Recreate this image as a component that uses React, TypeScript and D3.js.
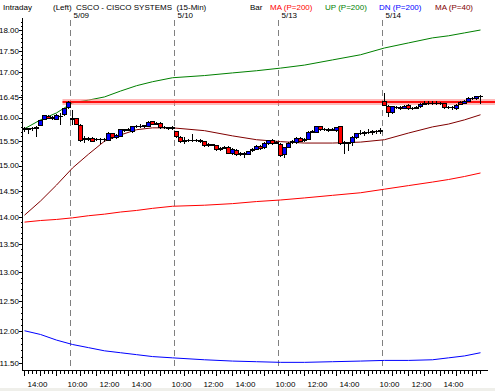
import React from 'react';
import * as d3 from 'd3';

// 15-min sessions: afternoon of 5/08, then 5/09, 5/10, 5/13, 5/14
const sessionStart = ['13:00', '09:30', '09:30', '09:30', '09:30'];
const sessionBars = [12, 26, 26, 26, 25];
const dayLabels = ['5/09', '5/10', '5/13', '5/14'];
const timeLabels = ['10:00', '12:00', '14:00'];
const yTicks = [18, 17.5, 17, 16.45, 16, 15.5, 15, 14.5, 14, 13.5, 13, 12.5, 12, 11.5];

const opens = [
  15.75, 15.74, 15.76, 15.77, 15.84, 15.96, 16.03, 15.98, 15.96, 16.02, 16.06, 16.21,
  15.97, 15.99, 15.84, 15.54, 15.55, 15.56, 15.53, 15.54, 15.53, 15.52, 15.65, 15.58, 15.6, 15.74,
  15.73, 15.7, 15.8, 15.81, 15.8, 15.81, 15.91, 15.86, 15.88, 15.79, 15.78, 15.76,
  15.7, 15.58, 15.5, 15.52, 15.51, 15.52, 15.51, 15.49, 15.41, 15.43, 15.41, 15.32, 15.35,
  15.37, 15.25, 15.31, 15.23, 15.24, 15.23, 15.3, 15.33, 15.39, 15.36, 15.45, 15.52, 15.46,
  15.44, 15.22, 15.37, 15.47, 15.47, 15.56, 15.51, 15.54, 15.69, 15.69, 15.8, 15.74, 15.75,
  15.73, 15.72, 15.8, 15.46, 15.47, 15.47, 15.57, 15.65, 15.67, 15.68, 15.69, 15.7, 15.71,
  16.34, 16.25, 16.11, 16.22, 16.21, 16.2, 16.27, 16.19, 16.2, 16.23, 16.29, 16.3, 16.31,
  16.3, 16.31, 16.3, 16.21, 16.22, 16.19, 16.33, 16.3, 16.35, 16.42, 16.41, 16.46,
];
const highs = [
  15.8, 15.78, 15.8, 15.82, 15.95, 16.06, 16.06, 16.04, 16.07, 16.1, 16.21, 16.35,
  16.16, 16.0, 15.86, 15.61, 15.58, 15.58, 15.57, 15.56, 15.56, 15.69, 15.67, 15.64, 15.76, 15.76,
  15.77, 15.82, 15.84, 15.86, 15.85, 15.93, 15.93, 15.9, 15.9, 15.81, 15.8, 15.81,
  15.72, 15.6, 15.58, 15.55, 15.65, 15.55, 15.54, 15.51, 15.46, 15.45, 15.43, 15.38, 15.4,
  15.4, 15.35, 15.34, 15.28, 15.27, 15.3, 15.36, 15.42, 15.42, 15.48, 15.53, 15.54, 15.5,
  15.46, 15.38, 15.48, 15.53, 15.58, 15.58, 15.56, 15.71, 15.73, 15.82, 15.82, 15.78, 15.77,
  15.78, 15.8, 15.82, 15.5, 15.49, 15.6, 15.67, 15.73, 15.71, 15.75, 15.73, 15.74, 15.78,
  16.53, 16.28, 16.25, 16.25, 16.24, 16.27, 16.3, 16.23, 16.25, 16.31, 16.35, 16.36, 16.35,
  16.36, 16.34, 16.32, 16.25, 16.24, 16.29, 16.36, 16.38, 16.45, 16.45, 16.48, 16.49,
];
const lows = [
  15.7, 15.66, 15.72, 15.58, 15.82, 15.94, 15.96, 15.95, 15.94, 15.84, 16.04, 16.19,
  15.84, 15.85, 15.48, 15.46, 15.5, 15.48, 15.5, 15.45, 15.48, 15.5, 15.54, 15.55, 15.58, 15.7,
  15.71, 15.68, 15.77, 15.77, 15.77, 15.79, 15.83, 15.83, 15.76, 15.75, 15.73, 15.73,
  15.57, 15.46, 15.45, 15.48, 15.48, 15.48, 15.47, 15.37, 15.38, 15.39, 15.3, 15.29, 15.33,
  15.23, 15.22, 15.2, 15.2, 15.15, 15.21, 15.28, 15.31, 15.32, 15.34, 15.43, 15.43, 15.44,
  15.17, 15.16, 15.35, 15.45, 15.45, 15.48, 15.49, 15.52, 15.67, 15.67, 15.72, 15.71, 15.7,
  15.71, 15.7, 15.43, 15.24, 15.3, 15.4, 15.55, 15.62, 15.6, 15.64, 15.62, 15.66, 15.66,
  16.24, 16.01, 16.07, 16.18, 16.16, 16.18, 16.17, 16.16, 16.18, 16.21, 16.27, 16.27, 16.27,
  16.28, 16.27, 16.19, 16.19, 16.16, 16.16, 16.27, 16.29, 16.33, 16.38, 16.39, 16.29,
];
const closes = [
  15.76, 15.76, 15.77, 15.78, 15.93, 16.04, 15.98, 16.01, 16.04, 16.03, 16.19, 16.32,
  15.97, 15.86, 15.52, 15.55, 15.54, 15.5, 15.54, 15.53, 15.54, 15.67, 15.57, 15.62, 15.74, 15.73,
  15.74, 15.8, 15.81, 15.8, 15.82, 15.9, 15.85, 15.87, 15.79, 15.78, 15.76, 15.78,
  15.59, 15.49, 15.52, 15.51, 15.52, 15.51, 15.5, 15.4, 15.43, 15.42, 15.32, 15.35, 15.37,
  15.25, 15.33, 15.22, 15.25, 15.23, 15.28, 15.33, 15.38, 15.34, 15.46, 15.51, 15.45, 15.48,
  15.21, 15.36, 15.46, 15.5, 15.56, 15.5, 15.53, 15.69, 15.7, 15.8, 15.74, 15.75, 15.73,
  15.75, 15.78, 15.46, 15.47, 15.46, 15.58, 15.65, 15.67, 15.68, 15.69, 15.7, 15.71, 15.72,
  16.27, 16.1, 16.23, 16.21, 16.2, 16.25, 16.19, 16.2, 16.22, 16.29, 16.3, 16.31, 16.3,
  16.31, 16.3, 16.21, 16.22, 16.21, 16.27, 16.29, 16.34, 16.42, 16.41, 16.46, 16.45,
];

// indicator lines, read at these bar positions
const lineBars = [0, 4, 8, 12, 16, 20, 24, 28, 32, 37, 45, 52, 58, 64, 70, 77, 84, 90, 96, 102, 106, 110, 114];
const ma200 = [13.9, 13.93, 13.95, 13.98, 14.02, 14.05, 14.09, 14.12, 14.16, 14.2, 14.22, 14.25, 14.29, 14.32, 14.36, 14.41, 14.46, 14.53, 14.6, 14.67, 14.72, 14.78, 14.85];
const upper = [15.76, 15.95, 16.1, 16.32, 16.38, 16.45, 16.58, 16.7, 16.79, 16.88, 16.93, 16.99, 17.04, 17.1, 17.17, 17.29, 17.41, 17.57, 17.69, 17.81, 17.86, 17.93, 18.0];
const lower = [12.01, 11.95, 11.86, 11.79, 11.74, 11.69, 11.66, 11.63, 11.6, 11.58, 11.55, 11.53, 11.52, 11.51, 11.51, 11.52, 11.53, 11.54, 11.54, 11.55, 11.58, 11.61, 11.66];
const ma40 = [14.03, 14.3, 14.61, 14.95, 15.23, 15.5, 15.63, 15.74, 15.78, 15.78, 15.72, 15.61, 15.53, 15.49, 15.46, 15.46, 15.48, 15.53, 15.67, 15.8, 15.86, 15.95, 16.06];

const levelPrice = 16.34;
const levelFromBar = 10;

const legendLabels = ['Bar', 'MA (P=200)', 'UP (P=200)', 'DN (P=200)', 'MA (P=40)'];
const legendColors = ['#000000', '#ff0000', '#008000', '#0000ff', '#800000'];
const legendX = [250, 270, 325, 379, 435];

const W = 495;
const H = 391;
const font = "'Liberation Sans', Arial, sans-serif";

const App = () => {
  const nBars = opens.length;
  const xScale = d3.scaleLinear().domain([0, 116.5]).range([22.5, 488.5]);
  const yScale = d3.scaleLog().domain([11.5, 18]).range([363, 30]);
  const plotTop = 18;
  const plotBottom = 370.5;

  // bar times
  const bars: { session: number; mins: number }[] = [];
  sessionStart.forEach((s, si) => {
    const [h, m] = s.split(':').map(Number);
    for (let j = 0; j < sessionBars[si]; j++) bars.push({ session: si, mins: h * 60 + m + 15 * j });
  });
  const fmt = (mins: number) => `${Math.floor(mins / 60)}:${String(mins % 60).padStart(2, '0')}`;
  const dayStarts: number[] = [];
  bars.forEach((b, i) => {
    if (i > 0 && b.session !== bars[i - 1].session) dayStarts.push(i);
  });

  const cx = (i: number) => xScale(i + 0.5);

  const line = d3.line<number>()
    .x((d, i) => cx(lineBars[i]))
    .y(d => yScale(d));

  const minorTicks = d3.range(115, 183).map(v => v / 10);

  const series = [
    { data: ma200, color: '#ff0000' },
    { data: upper, color: '#008000' },
    { data: lower, color: '#0000ff' },
    { data: ma40, color: '#800000' },
  ];

  return (
    <svg width={W} height={H} style={{ position: 'absolute', left: 0, top: 0, background: '#fff' }}
      fontFamily={font} fontSize={8}>
      <rect x={0} y={0} width={W} height={H} fill="#fff" />
      <rect x={0} y={388} width={W} height={3} fill="#efefea" />

      {/* header */}
      <text x={3} y={9.5}>Intraday</text>
      <text x={53} y={9.5}>(Left)</text>
      <text x={76} y={9.5} style={{ whiteSpace: 'pre' }}>CSCO - CISCO SYSTEMS  (15-Min)</text>
      {legendLabels.map((t, i) => (
        <text key={t} x={legendX[i]} y={9.5} fill={legendColors[i]}>{t}</text>
      ))}

      {/* day separators */}
      <g shapeRendering="crispEdges">
        {dayStarts.map((d, k) => (
          <g key={d}>
            <line x1={xScale(d)} x2={xScale(d)} y1={20} y2={plotBottom} stroke="#808080" strokeDasharray="6,4" />
            <text x={xScale(d) + 3} y={17.5}>{dayLabels[k]}</text>
          </g>
        ))}
      </g>

      {/* indicator lines */}
      {series.map((s, k) => (
        <path key={k} d={line(s.data) || ''} fill="none" stroke={s.color} strokeWidth={1} />
      ))}

      {/* price level */}
      <line x1={xScale(levelFromBar)} x2={W} y1={yScale(levelPrice)} y2={yScale(levelPrice)}
        stroke="#ff8080" strokeOpacity={0.55} strokeWidth={6} />
      <line x1={xScale(levelFromBar)} x2={W} y1={yScale(levelPrice)} y2={yScale(levelPrice)}
        stroke="#ff1010" strokeWidth={2} />

      {/* candles */}
      <g shapeRendering="crispEdges">
        {d3.range(nBars).map(i => {
          const o = opens[i], c = closes[i];
          const x = cx(i);
          const top = yScale(Math.max(o, c));
          const bot = yScale(Math.min(o, c));
          const fill = c > o ? '#0000ff' : c < o ? '#ff0000' : '#000';
          return (
            <g key={i}>
              <line x1={x} x2={x} y1={yScale(highs[i])} y2={yScale(lows[i])} stroke="#000" />
              <rect x={x - 2} y={top} width={4} height={Math.max(0.5, bot - top)} fill={fill} stroke="#000" />
            </g>
          );
        })}
      </g>

      {/* y axis */}
      <g shapeRendering="crispEdges">
        <line x1={22.5} x2={22.5} y1={plotTop} y2={plotBottom} stroke="#000" />
        {minorTicks.map(v => (
          <line key={v} x1={20.5} x2={22.5} y1={Math.round(yScale(v)) + 0.5} y2={Math.round(yScale(v)) + 0.5} stroke="#000" />
        ))}
        {yTicks.map(v => (
          <g key={v}>
            <line x1={19} x2={22.5} y1={Math.round(yScale(v)) + 0.5} y2={Math.round(yScale(v)) + 0.5} stroke="#000" />
            <text x={19} y={yScale(v)} dy="0.35em" textAnchor="end">{v.toFixed(2)}</text>
          </g>
        ))}
      </g>

      {/* x axis */}
      <g shapeRendering="crispEdges">
        <line x1={22} x2={488} y1={plotBottom} y2={plotBottom} stroke="#000" />
        {bars.map((b, i) => (
          <line key={i} x1={cx(i)} x2={cx(i)} y1={plotBottom} y2={plotBottom + (b.mins % 60 === 0 ? 5 : 3)} stroke="#000" />
        ))}
        {bars.map((b, i) => timeLabels.includes(fmt(b.mins)) ? (
          <text key={i} x={xScale(i) - 1} y={387} textAnchor="middle">{fmt(b.mins)}</text>
        ) : null)}
      </g>
    </svg>
  );
};

export default App;
